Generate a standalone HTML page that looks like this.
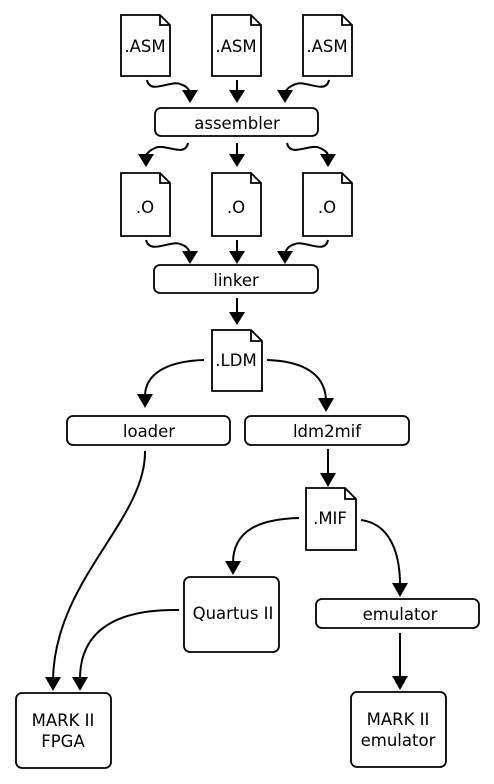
<!DOCTYPE html>
<html><head><style>
html,body{margin:0;padding:0;background:#fff;}
svg text{font-family:"DejaVu Sans","Liberation Sans",sans-serif;font-size:16.5px;fill:#000;}
</style></head><body>
<svg width="494" height="779" viewBox="0 0 494 779" xmlns="http://www.w3.org/2000/svg">
<g fill="#fff" stroke="#000" stroke-width="1.8">
<path d="M121,15 H160 L170,25 V76 H121 Z M160,15 V25 H170"/>
<path d="M212,15 H251 L261,25 V76 H212 Z M251,15 V25 H261"/>
<path d="M303,15 H342 L352,25 V76 H303 Z M342,15 V25 H352"/>
<path d="M121,173 H160 L170,183 V236 H121 Z M160,173 V183 H170"/>
<path d="M212,173 H251 L261,183 V236 H212 Z M251,173 V183 H261"/>
<path d="M303,173 H342 L352,183 V236 H303 Z M342,173 V183 H352"/>
<path d="M212,330 H251 L262,341 V391 H212 Z M251,330 V341 H262"/>
<path d="M306,488 H345 L356,499 V550 H306 Z M345,488 V499 H356"/>
<rect x="155" y="108" width="163" height="28" rx="6"/>
<rect x="154" y="265" width="164" height="28" rx="6"/>
<rect x="67" y="416" width="163" height="29" rx="6"/>
<rect x="245" y="416" width="164" height="29" rx="6"/>
<rect x="184" y="577" width="95" height="75" rx="6"/>
<rect x="316" y="599" width="163" height="29" rx="6"/>
<rect x="16" y="693" width="95" height="75" rx="6"/>
<rect x="351" y="692" width="95" height="75" rx="6"/>
</g>
<g fill="none" stroke="#000" stroke-width="2">
<path d="M147,80 C150,95 170,80 180,84 C186,86 188,88 190,92"/>
<path d="M237,80 V92"/>
<path d="M329,80 C326,95 306,80 296,84 C290,86 288,88 285,92"/>
<path d="M188,143 C185,158 165,143 155,148 C149,151 147,153 146,156"/>
<path d="M237,143 V156"/>
<path d="M287,143 C290,158 310,143 320,148 C326,151 328,153 328,156"/>
<path d="M146,240 C150,255 170,240 180,244 C186,246 188,248 190,253"/>
<path d="M237,240 V253"/>
<path d="M328,240 C325,255 305,240 295,244 C289,246 287,248 285,253"/>
<path d="M237,298 V320"/>
<path d="M204,360 C170,361 146,372 145,395"/>
<path d="M267,360 C300,361 325,372 326,400"/>
<path d="M328,449 V475"/>
<path d="M299,518 C260,519 233,530 233,563"/>
<path d="M361,520 C385,523 400,545 400,585"/>
<path d="M145,451 C146,520 55,580 53,679"/>
<path d="M179,610 C120,609 80,628 80,679"/>
<path d="M400,633 V678"/>
</g>
<g fill="#000">
<path d="M182,90 L198,90 L190,103 Z"/>
<path d="M229,90 L245,90 L237,103 Z"/>
<path d="M277,90 L293,90 L285,103 Z"/>
<path d="M138,154 L154,154 L146,167 Z"/>
<path d="M229,154 L245,154 L237,167 Z"/>
<path d="M320,154 L336,154 L328,167 Z"/>
<path d="M182,251 L198,251 L190,264 Z"/>
<path d="M229,251 L245,251 L237,264 Z"/>
<path d="M277,251 L293,251 L285,264 Z"/>
<path d="M229,312 L245,312 L237,325 Z"/>
<path d="M137,394 L153,394 L145,408 Z"/>
<path d="M318,398 L334,398 L326,412 Z"/>
<path d="M320,473 L336,473 L328,487 Z"/>
<path d="M225,561 L241,561 L233,575 Z"/>
<path d="M392,583 L408,583 L400,597 Z"/>
<path d="M45,677 L61,677 L53,691 Z"/>
<path d="M72,677 L88,677 L80,691 Z"/>
<path d="M392,676 L408,676 L400,690 Z"/>
</g>
<g text-anchor="middle">
<text x="145" y="52">.ASM</text>
<text x="236" y="52">.ASM</text>
<text x="327" y="52">.ASM</text>
<text x="237" y="129">assembler</text>
<text x="145" y="213">.O</text>
<text x="236" y="213">.O</text>
<text x="327" y="213">.O</text>
<text x="236" y="286">linker</text>
<text x="236" y="366">.LDM</text>
<text x="149" y="437">loader</text>
<text x="327" y="437">ldm2mif</text>
<text x="330" y="524">.MIF</text>
<text x="233" y="619">Quartus II</text>
<text x="400" y="620">emulator</text>
<text x="63" y="726">MARK II</text>
<text x="63" y="747">FPGA</text>
<text x="398" y="725">MARK II</text>
<text x="398" y="746">emulator</text>
</g>
</svg>
</body></html>
